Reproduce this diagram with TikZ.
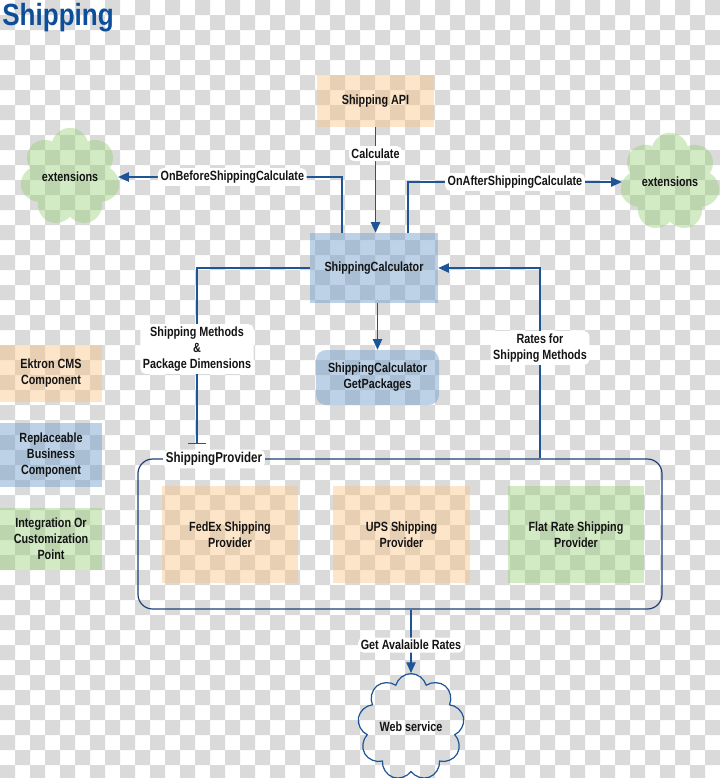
\documentclass[tikz,border=0pt]{standalone}
\usepackage{fontspec}
\setmainfont{Liberation Sans Bold}[FakeStretch=0.81]
\newfontfamily\ttlfont{Liberation Sans Bold}[FakeStretch=0.85]
\usetikzlibrary{shapes.symbols,arrows.meta,calc}
\definecolor{chk}{HTML}{DADADA}
\definecolor{txt}{HTML}{141414}
\definecolor{titlec}{HTML}{0D4E9A}
\definecolor{linec}{HTML}{1D5597}
\definecolor{contc}{HTML}{1E3F78}
\definecolor{peachc}{HTML}{F9C07A}
\definecolor{bluec}{HTML}{6E9DCA}
\definecolor{greenc}{HTML}{93CF70}
\tikzset{
  base/.style={font=\fontsize{10}{12}\selectfont, text=txt, align=center},
  boxpeach/.style={base, rectangle, fill=peachc, fill opacity=0.4, text opacity=1, inner sep=0pt},
  boxblue/.style={base, rectangle, fill=bluec, fill opacity=0.45, text opacity=1, inner sep=0pt},
  boxgreen/.style={base, rectangle, fill=greenc, fill opacity=0.4, text opacity=1, inner sep=0pt},
  greencloud/.style={base, cloud, cloud puffs=7, aspect=1, fill=greenc, fill opacity=0.4, text opacity=1, inner sep=0pt},
  lbl/.style={base, fill=white, rounded corners=4pt, inner sep=2pt},
  arr/.style={draw=linec, line width=0.9pt, -{Triangle[length=8pt,width=7pt]}},
  barline/.style={draw=linec, line width=0.9pt, -{Bar[width=13.5pt]}}
}
\begin{document}
\begin{tikzpicture}[x=0.75pt,y=-0.75pt]
\useasboundingbox (0,0) rectangle (720,778);
\clip (0,0) rectangle (720,778);
\fill[white] (0,0) rectangle (720,778);
% transparency checkerboard
\fill[chk]
  \foreach \j in {0,2,...,50}{ \foreach \i in {1,3,...,47}{ (\i*15,\j*15) rectangle ++(15,15) } }
  \foreach \j in {1,3,...,51}{ \foreach \i in {0,2,...,46}{ (\i*15,\j*15) rectangle ++(15,15) } };

% title
\node[anchor=base west, text=titlec, font=\ttlfont\fontsize{23}{26}\selectfont, inner sep=0pt] (title) at (2,26) {Shipping};

% main boxes
\node[boxpeach, minimum width=87.75pt, minimum height=39pt] (api) at (375.5,101) {Shipping API};
\node[boxblue, minimum width=96pt, minimum height=52.5pt] (calc) at (374,268) {ShippingCalculator};
\node[boxblue, rounded corners=7.5pt, minimum width=92.25pt, minimum height=41.25pt] (getpk) at (377.5,377.5) {ShippingCalculator\\GetPackages};

% clouds
\node[greencloud, minimum width=75pt, minimum height=72pt] (extL) at (70,177) {extensions};
\node[greencloud, minimum width=75pt, minimum height=74pt] (extR) at (670,182) {extensions};
\node[base, cloud, cloud puffs=9, aspect=1, draw=linec, line width=0.9pt, inner sep=0pt, minimum width=62pt, minimum height=61pt] (web) at (411,727) {Web service};

% provider container
\node[draw=contc, line width=0.9pt, rounded corners=11pt, minimum width=393pt, minimum height=112.5pt] (prov) at (400,534) {};
\node[lbl, font=\fontsize{10.7}{12}\selectfont] (provlbl) at (214,459) {ShippingProvider};
\node[boxpeach, minimum width=102pt, minimum height=72.75pt] (fedex) at (230,534.5) {FedEx Shipping\\Provider};
\node[boxpeach, minimum width=102.75pt, minimum height=72.75pt] (ups) at (401.5,534.5) {UPS Shipping\\Provider};
\node[boxgreen, minimum width=102pt, minimum height=72.75pt] (flat) at (576,534.5) {Flat Rate Shipping\\Provider};

% legend
\node[boxpeach, minimum width=76.5pt, minimum height=42.75pt] (leg1) at (51,373.5) {Ektron CMS\\Component};
\node[boxblue, minimum width=76.5pt, minimum height=48pt] (leg2) at (51,455) {Replaceable\\Business\\Component};
\node[boxgreen, minimum width=76.5pt, minimum height=46.5pt] (leg3) at (51,539) {Integration Or\\Customization\\Point};

% connector helpers
\coordinate (bL) at (342,0);
\coordinate (bR) at (408,0);
\coordinate (rX) at (540,0);
\coordinate (tEnd) at (197,444);

% connectors
\draw[arr] (api.south) -- node[lbl, pos=0.25] {Calculate} (api.south |- calc.north);
\draw[arr] (calc.north -| bL) |- node[lbl, pos=0.745] {OnBeforeShippingCalculate} (extL);
\draw[arr] (calc.north -| bR) |- node[lbl, pos=0.75] {OnAfterShippingCalculate} (extR);
\draw[barline] (calc.west) -| node[lbl, pos=0.73] {Shipping Methods\\\&\\Package Dimensions} (tEnd);
\draw[arr] (calc.south -| getpk.north) -- (getpk.north);
\draw[arr] (prov.north -| rX) |- node[lbl, pos=0.29] {Rates for\\Shipping Methods} (calc.east);
\draw[arr] (prov.south -| web.north) -- node[lbl, pos=0.56] {Get Avalaible Rates} (web.north);
\end{tikzpicture}
\end{document}
